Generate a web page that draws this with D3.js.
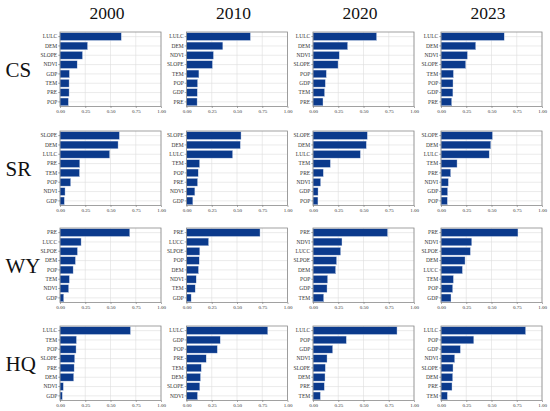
<!DOCTYPE html>
<html>
<head>
<meta charset="utf-8">
<script src="https://cdn.jsdelivr.net/npm/d3@7/dist/d3.min.js"></script>
<style>
html,body{margin:0;padding:0;background:#fff;}
svg{display:block;}
</style>
</head>
<body>
<svg id="chart" width="550" height="411"></svg>
<script>
const years = ["2000", "2010", "2020", "2023"];
const regions = ["CS", "SR", "WY", "HQ"];
const xTicks = [0, 0.25, 0.5, 0.75, 1.0];

// CS
const csLabels2000 = ["LULC","DEM","SLOPE","NDVI","GDP","TEM","PRE","POP"];
const csValues2000 = [0.607,0.273,0.223,0.170,0.093,0.090,0.090,0.083];
const csLabels2010 = ["LULC","DEM","NDVI","SLOPE","TEM","POP","GDP","PRE"];
const csValues2010 = [0.633,0.360,0.267,0.257,0.123,0.110,0.107,0.105];
const csLabels2020 = ["LULC","DEM","NDVI","SLOPE","POP","GDP","TEM","PRE"];
const csValues2020 = [0.630,0.343,0.260,0.248,0.132,0.122,0.115,0.099];
const csLabels2023 = ["LULC","DEM","NDVI","SLOPE","TEM","POP","GDP","PRE"];
const csValues2023 = [0.626,0.344,0.262,0.245,0.123,0.119,0.118,0.106];
// SR
const srLabels2000 = ["SLOPE","DEM","LULC","PRE","TEM","POP","NDVI","GDP"];
const srValues2000 = [0.588,0.575,0.492,0.196,0.193,0.106,0.050,0.043];
const srLabels2010 = ["SLOPE","DEM","LULC","TEM","POP","PRE","NDVI","GDP"];
const srValues2010 = [0.540,0.533,0.457,0.130,0.116,0.110,0.083,0.063];
const srLabels2020 = ["SLOPE","DEM","LULC","TEM","PRE","NDVI","GDP","POP"];
const srValues2020 = [0.538,0.528,0.469,0.172,0.102,0.076,0.050,0.049];
const srLabels2023 = ["SLOPE","DEM","LULC","TEM","PRE","NDVI","GDP","POP"];
const srValues2023 = [0.510,0.493,0.477,0.159,0.096,0.073,0.066,0.063];
// WY
const wyLabels2000 = ["PRE","LUCC","SLPOE","DEM","POP","TEM","NDVI","GDP"];
const wyValues2000 = [0.691,0.209,0.173,0.153,0.130,0.093,0.086,0.037];
const wyLabels2010 = ["PRE","LUCC","SLPOE","POP","DEM","NDVI","TEM","GDP"];
const wyValues2010 = [0.728,0.219,0.132,0.126,0.119,0.096,0.086,0.046];
const wyLabels2020 = ["PRE","NDVI","LUCC","SLPOE","DEM","POP","GDP","TEM"];
const wyValues2020 = [0.739,0.287,0.274,0.234,0.224,0.145,0.139,0.106];
const wyLabels2023 = ["PRE","NDVI","SLPOE","DEM","LUCC","TEM","POP","GDP"];
const wyValues2023 = [0.762,0.305,0.291,0.238,0.212,0.123,0.116,0.099];
// HQ
const hqLabels2000 = ["LULC","TEM","POP","SLOPE","PRE","DEM","NDVI","GDP"];
const hqValues2000 = [0.698,0.163,0.159,0.146,0.140,0.136,0.033,0.023];
const hqLabels2010 = ["LULC","GDP","POP","PRE","TEM","DEM","SLOPE","NDVI"];
const hqValues2010 = [0.805,0.334,0.305,0.195,0.146,0.139,0.132,0.109];
const hqLabels2020 = ["LULC","POP","GDP","NDVI","SLOPE","DEM","PRE","TEM"];
const hqValues2020 = [0.832,0.330,0.195,0.139,0.122,0.119,0.112,0.073];
const hqLabels2023 = ["LULC","POP","GDP","NDVI","SLOPE","DEM","PRE","TEM"];
const hqValues2023 = [0.838,0.325,0.192,0.136,0.119,0.116,0.109,0.063];

const panels = [
  [[csLabels2000,csValues2000],[csLabels2010,csValues2010],[csLabels2020,csValues2020],[csLabels2023,csValues2023]],
  [[srLabels2000,srValues2000],[srLabels2010,srValues2010],[srLabels2020,srValues2020],[srLabels2023,srValues2023]],
  [[wyLabels2000,wyValues2000],[wyLabels2010,wyValues2010],[wyLabels2020,wyValues2020],[wyLabels2023,wyValues2023]],
  [[hqLabels2000,hqValues2000],[hqLabels2010,hqValues2010],[hqLabels2020,hqValues2020],[hqLabels2023,hqValues2023]]
];

const svg = d3.select("#chart");
const serif = "'Liberation Serif','Times New Roman',serif";
const colX = [60, 186.5, 313, 441];
const rowY = [32, 131, 228, 326];
const pw = 101, ph = 74.5;
const barColor = "#0b3a8c";

years.forEach((yr, c) => {
  svg.append("text")
    .attr("x", colX[c] + pw/2 - 3.5)
    .attr("y", 18.5)
    .attr("text-anchor", "middle")
    .attr("font-family", serif)
    .attr("font-size", 17.5)
    .attr("fill", "#111")
    .text(yr);
});

regions.forEach((rg, r) => {
  svg.append("text")
    .attr("x", 5.5)
    .attr("y", rowY[r] + ph/2 + 7.5)
    .attr("font-family", serif)
    .attr("font-size", 21)
    .attr("fill", "#111")
    .text(rg);
});

panels.forEach((row, r) => {
  row.forEach(([labels, values], c) => {
    const g = svg.append("g").attr("transform", `translate(${colX[c]},${rowY[r]})`);
    const x = d3.scaleLinear().domain([0, 1]).range([0, pw]);
    const y = d3.scaleBand().domain(labels).range([0, ph]).paddingInner(0.17).paddingOuter(0.08);

    g.append("rect").attr("width", pw).attr("height", ph).attr("fill", "#fff");

    g.append("g").selectAll("line").data(xTicks).join("line")
      .attr("x1", d => x(d)).attr("x2", d => x(d))
      .attr("y1", 0).attr("y2", ph)
      .attr("stroke", "#dedede").attr("stroke-width", 0.6);
    g.append("g").selectAll("line").data(labels).join("line")
      .attr("x1", 0).attr("x2", pw)
      .attr("y1", d => y(d) + y.bandwidth()/2).attr("y2", d => y(d) + y.bandwidth()/2)
      .attr("stroke", "#dedede").attr("stroke-width", 0.6);

    g.append("g").selectAll("rect").data(labels.map((l, i) => ({l, v: values[i]}))).join("rect")
      .attr("x", x(0))
      .attr("y", d => y(d.l))
      .attr("width", d => x(d.v) - x(0))
      .attr("height", y.bandwidth())
      .attr("fill", barColor)
      .attr("stroke", "#d8e2f2")
      .attr("stroke-width", 0.4);

    g.append("rect").attr("width", pw).attr("height", ph)
      .attr("fill", "none").attr("stroke", "#8a8a8a").attr("stroke-width", 0.8);

    const ya = g.append("g").call(d3.axisLeft(y).tickSize(1.8).tickPadding(1));
    ya.select(".domain").remove();
    ya.selectAll("line").attr("stroke", "#555").attr("stroke-width", 0.5);
    ya.selectAll("text").attr("font-family", serif).attr("font-size", 5.5).attr("fill", "#333");

    const xa = g.append("g").attr("transform", `translate(0,${ph})`)
      .call(d3.axisBottom(x).tickValues(xTicks).tickFormat(d3.format(".2f")).tickSize(1.5).tickPadding(1.5));
    xa.select(".domain").remove();
    xa.selectAll("line").attr("stroke", "#555").attr("stroke-width", 0.5);
    xa.selectAll("text").attr("font-family", serif).attr("font-size", 5).attr("fill", "#333");
  });
});
</script>
</body>
</html>
